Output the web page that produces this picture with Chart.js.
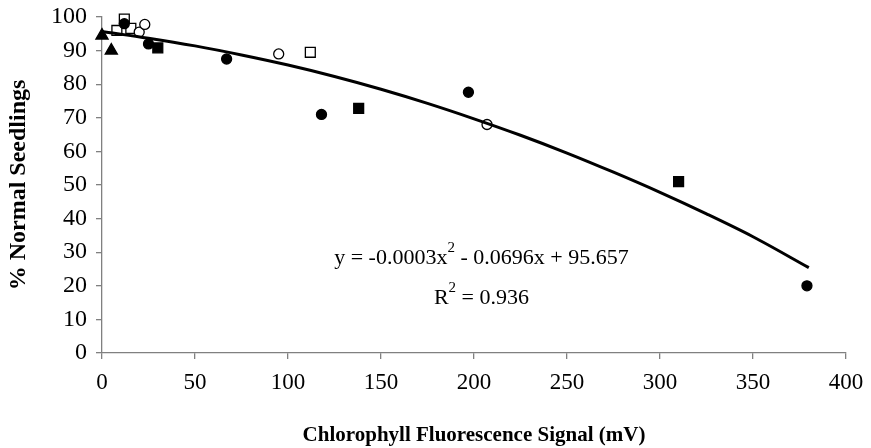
<!DOCTYPE html>
<html>
<head>
<meta charset="utf-8">
<script src="https://cdn.jsdelivr.net/npm/chart.js@4"></script>
<style>
  body { margin: 0; background: #fff; }
  #wrap { width: 871px; height: 448px; }
</style>
</head>
<body>
<div id="wrap"><canvas id="chart" width="871" height="448"></canvas></div>
<script>
// values
const triX = [0, 5]
const triY = [94.5, 90]
const dotX = [12, 25, 67, 118, 197, 379]
const dotY = [98, 92, 87.5, 71, 77.6, 20]
const ringX = [20, 23, 95, 207]
const ringY = [95.5, 97.8, 89, 68]
const boxX = [8, 12, 15.5, 112]
const boxY = [96, 99.4, 96.6, 89.5]
const blockX = [30, 138, 310]
const blockY = [90.8, 72.8, 51]
// trend line as it shows in the picture
const fitX = [0, 25, 50, 75, 100, 125, 150, 175, 200, 225, 250, 275, 300, 325, 350, 380]
const fitY = [95.7, 93.7, 91.4, 88.7, 85.7, 82.3, 78.5, 74.3, 69.7, 64.8, 59.5, 53.8, 47.8, 41.4, 34.6, 25.4]
const xTicks = [0, 50, 100, 150, 200, 250, 300, 350, 400]
const yTicks = [0, 10, 20, 30, 40, 50, 60, 70, 80, 90, 100]

const serif = '"Liberation Serif", "Times New Roman", serif'

function pts(xs, ys) {
  return xs.map((x, i) => ({ x: x, y: ys[i] }))
}

function markers(xs, ys, style, fill, r) {
  return {
    type: 'scatter',
    data: pts(xs, ys),
    pointStyle: style,
    pointRadius: r,
    pointHoverRadius: r,
    pointBackgroundColor: fill,
    pointBorderColor: '#000',
    pointBorderWidth: 1.3,
    order: 1
  }
}

// equation text with superscripts
const fitLabel = {
  id: 'fitLabel',
  afterDraw(chart) {
    const ctx = chart.ctx
    const xs = chart.scales.x
    const ys = chart.scales.y
    const cx = xs.getPixelForValue(204)
    const drawParts = (parts, y) => {
      let w = 0
      parts.forEach(p => {
        ctx.font = (p.sup ? '15px ' : '22px ') + serif
        w += ctx.measureText(p.t).width
      })
      let x = cx - w / 2
      ctx.textBaseline = 'alphabetic'
      ctx.textAlign = 'left'
      ctx.fillStyle = '#000'
      parts.forEach(p => {
        ctx.font = (p.sup ? '15px ' : '22px ') + serif
        ctx.fillText(p.t, x, p.sup ? y - 12 : y)
        x += ctx.measureText(p.t).width
      })
    }
    ctx.save()
    drawParts([{ t: 'y = -0.0003x' }, { t: '2', sup: true }, { t: ' - 0.0696x + 95.657' }], ys.getPixelForValue(26.5))
    drawParts([{ t: 'R' }, { t: '2', sup: true }, { t: ' = 0.936' }], ys.getPixelForValue(14.6))
    ctx.restore()
  }
}

new Chart(document.getElementById('chart'), {
  type: 'scatter',
  data: {
    datasets: [
      {
        type: 'line',
        data: pts(fitX, fitY),
        borderColor: '#000',
        borderWidth: 3,
        pointRadius: 0,
        fill: false,
        cubicInterpolationMode: 'monotone',
        order: 0
      },
      markers(triX, triY, 'triangle', '#000', 7),
      markers(dotX, dotY, 'circle', '#000', 5),
      markers(ringX, ringY, 'circle', '#fff', 5),
      markers(boxX, boxY, 'rect', '#fff', 7),
      markers(blockX, blockY, 'rect', '#000', 7)
    ]
  },
  options: {
    responsive: false,
    animation: false,
    layout: { padding: { left: 0, right: 25, top: 17, bottom: 0 } },
    plugins: {
      legend: { display: false },
      tooltip: { enabled: false }
    },
    clip: false,
    scales: {
      x: {
        type: 'linear',
        min: 0,
        max: 400,
        afterBuildTicks: s => { s.ticks = xTicks.map(v => ({ value: v })) },
        afterFit: s => { s.height = 95; s.paddingLeft = 0; s.paddingRight = 0 },
        border: { display: true, color: '#808080', width: 1.3 },
        grid: { drawOnChartArea: false, drawTicks: true, tickLength: 6, color: '#808080', lineWidth: 1.3 },
        ticks: { color: '#000', font: { family: serif, size: 23 }, padding: 10, maxRotation: 0 },
        title: {
          display: true,
          text: 'Chlorophyll Fluorescence Signal (mV)',
          color: '#000',
          font: { family: serif, size: 21, weight: 'bold' },
          padding: { top: 0, bottom: 0 }
        }
      },
      y: {
        type: 'linear',
        min: 0,
        max: 100,
        afterBuildTicks: s => { s.ticks = yTicks.map(v => ({ value: v })) },
        afterFit: s => { s.width = 102; s.paddingTop = 0; s.paddingBottom = 0 },
        border: { display: true, color: '#808080', width: 1.3 },
        grid: { drawOnChartArea: false, drawTicks: true, tickLength: 6, color: '#808080', lineWidth: 1.3 },
        ticks: { color: '#000', font: { family: serif, size: 24 }, padding: 9 },
        title: {
          display: true,
          text: '% Normal Seedlings',
          color: '#000',
          font: { family: serif, size: 24, weight: 'bold' },
          padding: { top: 4, bottom: 0 }
        }
      }
    }
  },
  plugins: [fitLabel]
})
</script>
</body>
</html>
